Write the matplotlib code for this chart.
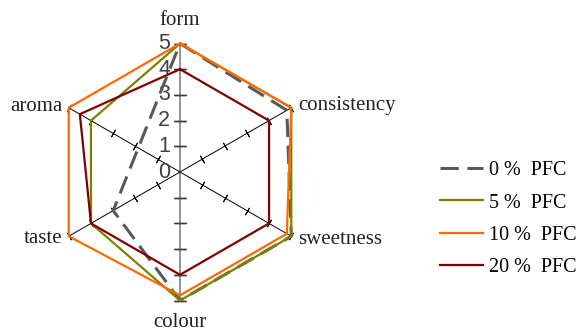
import numpy as np
import matplotlib
matplotlib.use('Agg')
import matplotlib.pyplot as plt

# sensory scores per category (aroma of 0 % PFC left blank in the source)
categories = ['form', 'consistency', 'sweetness', 'colour', 'taste', 'aroma']
pfc_0 = [5, 4.8, 5, 5, 3, None]
pfc_5 = [5, 5, 5, 5, 4, 4]
pfc_10 = [5, 5, 4.8, 4.8, 5, 5]
pfc_20 = [4, 4, 4, 4, 4, 4.5]
series_labels = ['0 %  PFC', '5 %  PFC', '10 %  PFC', '20 %  PFC']
scale_ticks = [0, 1, 2, 3, 4, 5]


def to_xy(values, angles):
    '''Convert radar values to x/y, dropping blanks, closing the loop.'''
    pts = [(v * np.cos(a), v * np.sin(a)) for v, a in zip(values, angles) if v is not None]
    pts.append(pts[0])
    pts = np.array(pts)
    return pts[:, 0], pts[:, 1]


def main():
    fig = plt.figure(figsize=(5.83, 3.31), dpi=100)
    ax = fig.add_axes([0.04425, 0.0145, 0.529, 0.9317])
    ax.set_xlim(-6, 6)
    ax.set_ylim(-6, 6)
    ax.set_aspect('equal')
    ax.axis('off')

    angles = np.deg2rad([90, 30, -30, -90, -150, 150])
    rmax = scale_ticks[-1]

    # spokes with cross tick marks
    for a in angles:
        vertical = abs(np.cos(a)) < 1e-6
        color = '#808080' if vertical else 'black'
        lw = 1.2 if vertical else 0.7
        ax.plot([0, rmax * np.cos(a)], [0, rmax * np.sin(a)], color=color, lw=lw, zorder=1)
        r = np.array(scale_ticks[1:])
        ax.plot(r * np.cos(a), r * np.sin(a), ls='none',
                marker=(2, 2, np.rad2deg(a)),
                markersize=8 if vertical else 6,
                markeredgecolor='#404040' if vertical else 'black',
                markeredgewidth=1.0 if vertical else 0.7, zorder=1)

    for t in scale_ticks:
        ax.text(-0.38, t, str(t), ha='right', va='center', fontsize=15.5,
                family='Liberation Sans', color='#404040', zorder=2)

    # category labels
    lab_font = dict(fontsize=15, family='Liberation Serif', color='#222222')
    ax.text(0, 5.91, 'form', ha='center', va='center', **lab_font)
    ax.text(4.59, 2.57, 'consistency', ha='left', va='center', **lab_font)
    ax.text(4.59, -2.62, 'sweetness', ha='left', va='center', **lab_font)
    ax.text(0, -5.86, 'colour', ha='center', va='center', **lab_font)
    ax.text(-4.59, -2.6, 'taste', ha='right', va='center', **lab_font)
    ax.text(-4.59, 2.55, 'aroma', ha='right', va='center', **lab_font)

    styles = [
        dict(color='#595959', lw=2.2, dashes=(6, 2.8)),
        dict(color='#808000', lw=1.6),
        dict(color='#ff6a00', lw=1.6),
        dict(color='#800000', lw=1.6),
    ]
    handles = []
    for vals, st, lab in zip([pfc_0, pfc_5, pfc_10, pfc_20], styles, series_labels):
        x, y = to_xy(vals, angles)
        line, = ax.plot(x, y, label=lab, zorder=3, **st)
        handles.append(line)

    fig.legend(handles=handles, loc='center left', bbox_to_anchor=(0.7547, 0.3378),
               frameon=False, borderpad=0, borderaxespad=0, handlelength=2.15,
               handletextpad=0.3, labelspacing=0.66,
               prop={'family': 'Liberation Serif', 'size': 14.5})

    fig.savefig('out.png', dpi=100)


if __name__ == '__main__':
    main()
